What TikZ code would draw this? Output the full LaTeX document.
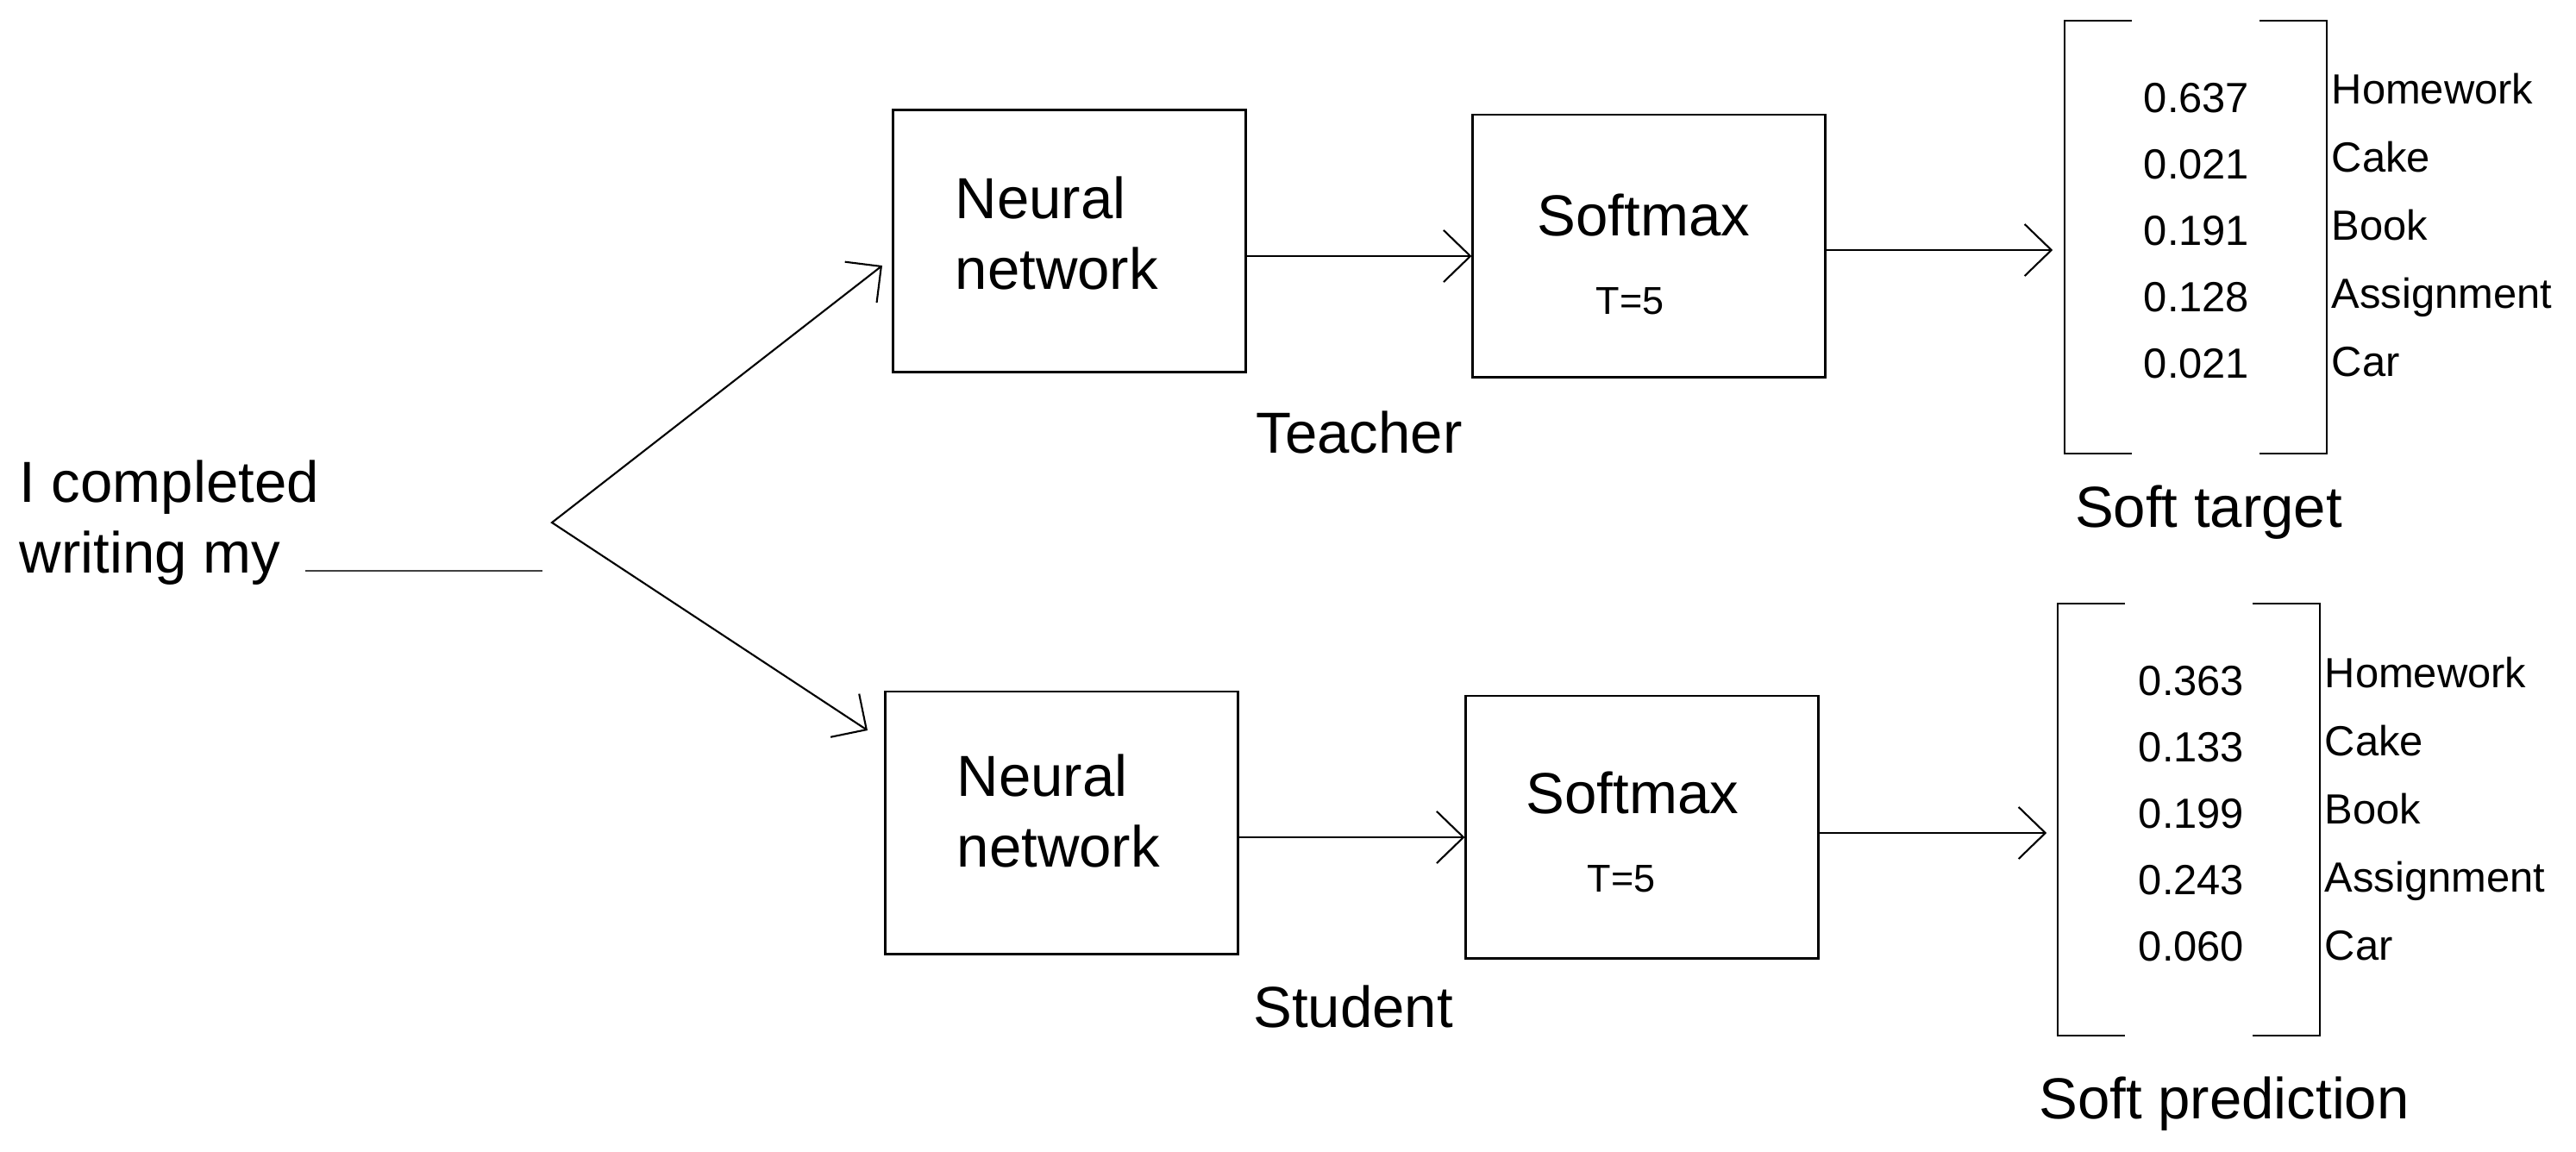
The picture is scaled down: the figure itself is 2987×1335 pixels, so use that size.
\documentclass[tikz,border=0pt]{standalone}
\usepackage{fontspec}
\setmainfont{Liberation Sans}
\usetikzlibrary{arrows.meta,calc,positioning}

\begin{document}
\begin{tikzpicture}[x=0.01cm, y=-0.01cm,
      block/.style={draw, rectangle, line width=0.8pt, minimum width=4.08cm, minimum height=3.04cm, inner sep=0pt},
      vecbox/.style={rectangle, minimum width=3.02cm, minimum height=5cm, inner sep=0pt},
      bigtext/.style={font=\fontsize{19.1}{23.3}\selectfont, inner sep=0pt},
      numtext/.style={font=\fontsize{13.9}{16}\selectfont, inner sep=0pt},
      temptext/.style={font=\fontsize{12.8}{15}\selectfont, inner sep=0pt},
      thinline/.style={line width=0.6pt},
      arr/.style={thinline, -{Straight Barb[length=0.31cm, width=0.6cm]}}]
    \useasboundingbox (0,0) rectangle (2987,1335);

    % input sentence
    \node[bigtext, align=left, anchor=base west] (inp) at (22,664) {I completed\\writing my};
    \coordinate (blankL) at (354,662);
    \coordinate (blankR) at (629,662);
    \draw[thinline, black!75] (blankL) -- (blankR);

    % teacher
    \node[block] (nnT) at (1240,279.5) {};
    \node[bigtext, align=left, anchor=base west] (nnTtxt) at (1107,335) {Neural\\network};
    \node[block] (smT) at (1912,285) {};
    \node[bigtext, anchor=base] (smTtxt) at (1906,273) {Softmax};
    \node[temptext, anchor=base] (tT) at (1890,364) {T=5};
    \node[bigtext, anchor=base] (lblT) at (1576,525) {Teacher};
    \node[vecbox] (vecT) at (2546,275) {};
    \foreach \p/\c [count=\i from 0] in {0.637/Homework, 0.021/Cake, 0.191/Book, 0.128/Assignment, 0.021/Car} {
      \node[numtext, anchor=base] (pT\i) at (2547,{130+77*\i}) {\p};
      \node[numtext, anchor=base west] (cT\i) at (2703,{120+79*\i}) {\c};
    }
    \node[bigtext, anchor=base] (softT) at (2561,611) {Soft target};

    % student
    \node[block] (nnS) at (1231,954) {};
    \node[bigtext, align=left, anchor=base west] (nnStxt) at (1109,1005) {Neural\\network};
    \node[block] (smS) at (1904,959) {};
    \node[bigtext, anchor=base] (smStxt) at (1893,943) {Softmax};
    \node[temptext, anchor=base] (tS) at (1880,1034) {T=5};
    \node[bigtext, anchor=base] (lblS) at (1569,1191) {Student};
    \node[vecbox] (vecS) at (2538,950.5) {};
    \foreach \p/\c [count=\i from 0] in {0.363/Homework, 0.133/Cake, 0.199/Book, 0.243/Assignment, 0.060/Car} {
      \node[numtext, anchor=base] (pS\i) at (2541,{806+77*\i}) {\p};
      \node[numtext, anchor=base west] (cS\i) at (2695,{797+79*\i}) {\c};
    }
    \node[bigtext, anchor=base] (softS) at (2579,1297) {Soft prediction};

    % brackets
    \draw[thinline] ($(vecT.north west)+(78,0)$) -| (vecT.south west) -- ++(78,0);
    \draw[thinline] ($(vecT.north east)+(-78,0)$) -| (vecT.south east) -- ++(-78,0);
    \draw[thinline] ($(vecS.north west)+(78,0)$) -| (vecS.south west) -- ++(78,0);
    \draw[thinline] ($(vecS.north east)+(-78,0)$) -| (vecS.south east) -- ++(-78,0);

    % fork
    \coordinate (fork) at (640,606);
    \coordinate (tipT) at (1023,308);
    \coordinate (tipS) at (1006,847);
    \draw[thinline, {Straight Barb[length=0.3cm, width=0.6cm]}-{Straight Barb[length=0.3cm, width=0.6cm]}] (tipT) -- (fork) -- (tipS);

    % arrows
    \coordinate (aT1) at ($(nnT.east)+(0,17.5)$);
    \coordinate (aT2) at ($(smT.east)+(0,5)$);
    \draw[arr] (aT1) -- (smT.west |- aT1);
    \draw[arr, shorten >=0.14cm] (aT2) -- (vecT.west |- aT2);
    \coordinate (aS1) at ($(nnS.east)+(0,17)$);
    \coordinate (aS2) at ($(smS.east)+(0,7)$);
    \draw[arr] (aS1) -- (smS.west |- aS1);
    \draw[arr, shorten >=0.13cm] (aS2) -- (vecS.west |- aS2);
  \end{tikzpicture}
\end{document}
